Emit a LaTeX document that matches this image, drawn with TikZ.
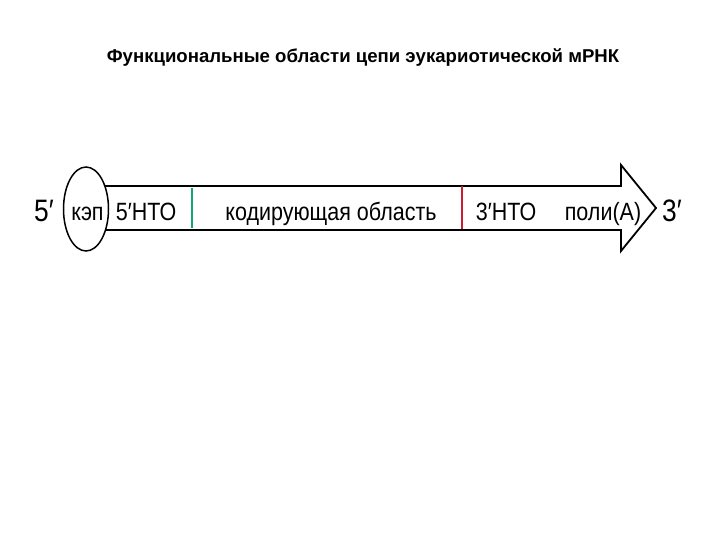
\documentclass[tikz,border=0pt]{standalone}
\usepackage{fontspec}
\usetikzlibrary{shapes.geometric}
\setmainfont{Liberation Sans}
\definecolor{mgreen}{RGB}{20,165,115}
\definecolor{mred}{RGB}{200,30,45}
\begin{document}
\begin{tikzpicture}[x=1pt,y=-1pt,
  lbl/.style={inner sep=0pt, anchor=base, xscale=0.86, font=\fontsize{25}{27}\selectfont},
  big/.style={inner sep=0pt, anchor=base, xscale=0.85, font=\fontsize{31}{33}\selectfont},
  outline/.style={draw=black, line width=1.8pt, line join=miter}]
\useasboundingbox (0,0) rectangle (720,540);
\node[inner sep=0pt, anchor=base, font=\bfseries\fontsize{18.6}{20}\selectfont] (title) at (363,63) {Функциональные области цепи эукариотической мРНК};
\coordinate (bl) at (95,186);
\coordinate (hs) at (621,186);
\coordinate (ht) at (621,165);
\coordinate (tip) at (656,208);
\coordinate (hb) at (621,251);
\coordinate (he) at (621,230);
\coordinate (br) at (95,230);
\draw[outline] (bl) -- (hs) -- (ht) -- (tip) -- (hb) -- (he) -- (br);
\node[draw=black, line width=1.5pt, fill=white, ellipse, minimum width=45pt, minimum height=84pt, inner sep=0pt] (cap) at (86,209) {};
\node[lbl] (kep) at (87.5,221) {кэп};
\draw[mgreen, line width=1.6pt] (192,188) coordinate (g1) -- (192,228) coordinate (g2);
\draw[mred, line width=1.1pt] (462,186) coordinate (r1) -- (462,229) coordinate (r2);
\node[big] (p5) at (44,222) {5′};
\node[lbl] (utr5) at (146,221) {5′НТО};
\node[lbl] (cds) at (331,221) {кодирующая область};
\node[lbl] (utr3) at (506,221) {3′НТО};
\node[lbl] (polya) at (603,221) {поли(А)};
\node[big] (p3) at (672,222) {3′};
\end{tikzpicture}
\end{document}
